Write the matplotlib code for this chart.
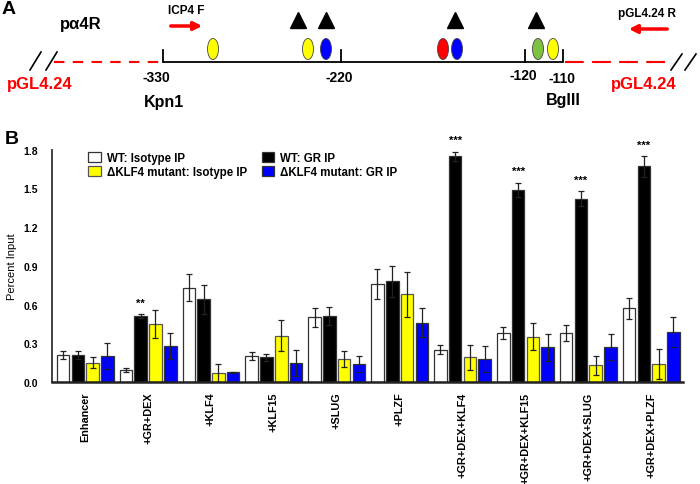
import matplotlib
matplotlib.use("Agg")
import matplotlib.pyplot as plt
from matplotlib.patches import Ellipse
import numpy as np

plt.rcParams['font.family'] = ['Liberation Sans', 'DejaVu Sans']

# ---------------- data (panel B) ----------------
groups = ["Enhancer", "+GR+DEX", "+KLF4", "+KLF15", "+SLUG", "+PLZF",
          "+GR+DEX+KLF4", "+GR+DEX+KLF15", "+GR+DEX+SLUG", "+GR+DEX+PLZF"]
series_names = ["WT: Isotype IP", "WT: GR IP",
                "\u0394KLF4 mutant: Isotype IP", "\u0394KLF4 mutant: GR IP"]
wt_iso = [0.21, 0.09, 0.73, 0.20, 0.50, 0.76, 0.25, 0.38, 0.38, 0.57]
wt_iso_err = [0.03, 0.015, 0.105, 0.03, 0.075, 0.115, 0.035, 0.05, 0.06, 0.08]
wt_gr = [0.21, 0.51, 0.64, 0.19, 0.51, 0.78, 1.75, 1.49, 1.42, 1.67]
wt_gr_err = [0.03, 0.015, 0.11, 0.03, 0.07, 0.12, 0.035, 0.055, 0.06, 0.08]
mut_iso = [0.15, 0.45, 0.07, 0.36, 0.18, 0.68, 0.19, 0.35, 0.13, 0.14]
mut_iso_err = [0.045, 0.11, 0.07, 0.12, 0.06, 0.175, 0.095, 0.105, 0.075, 0.115]
mut_gr = [0.20, 0.28, 0.075, 0.15, 0.14, 0.46, 0.18, 0.27, 0.27, 0.39]
mut_gr_err = [0.10, 0.10, 0.005, 0.10, 0.06, 0.11, 0.10, 0.105, 0.10, 0.115]
stars = ["", "**", "", "", "", "", "***", "***", "***", "***"]
yticks = [0.0, 0.3, 0.6, 0.9, 1.2, 1.5, 1.8]
ytick_labels = ["0.0", "0.3", "0.6", "0.9", "1.2", "1.5", "1.8"]

# ---------------- data (panel A schematic) ----------------
site_x = [213, 308, 326, 443, 457, 538, 553]
site_colors = ["#ffff00", "#ffff00", "#0000ff", "#ff0000", "#0000ff", "#7fc241", "#ffff00"]
triangle_x = [298, 326, 455, 536]
pos_labels = ["-330", "-220", "-120", "-110"]
pos_tick_x = [163, 341, 525, 563]
pos_label_x = [156, 339, 523, 562]
pos_label_y = [78, 78, 76, 79]

fig = plt.figure(figsize=(7.0, 4.85), dpi=100)

# ================= Panel A =================
axA = fig.add_axes([0, 1 - 112 / 485, 1, 112 / 485])
axA.set_xlim(0, 700)
axA.set_ylim(112, 0)
axA.axis('off')

line_y = 63
axA.plot([163, 563], [line_y, line_y], color='black', lw=1.3, solid_capstyle='butt')
for tx in pos_tick_x:
    axA.plot([tx, tx], [line_y, line_y - 12], color='black', lw=1.3)
for lab, lx, ly in zip(pos_labels, pos_label_x, pos_label_y):
    axA.text(lx, ly, lab, ha='center', va='center', fontsize=10, fontweight='bold')

# red dashed vector lines
axA.plot([54, 161], [line_y, line_y], color='red', lw=1.5, ls=(0, (5, 4)))
axA.plot([565, 670], [line_y, line_y], color='red', lw=1.5, ls=(0, (9, 4)))
# break marks
for x0 in (30, 46):
    axA.plot([x0, x0 + 11], [71, 53], color='black', lw=1.2)
for x0 in (671, 685):
    axA.plot([x0, x0 + 11], [71, 55], color='black', lw=1.2)

for sx, sc in zip(site_x, site_colors):
    axA.add_patch(Ellipse((sx, 50), 11, 21, facecolor=sc, edgecolor='#444444', lw=0.6))
axA.plot(triangle_x, [21] * len(triangle_x), marker='^', ls='none', color='black', ms=11)

axA.text(2, 9, "A", fontsize=14, fontweight='bold', ha='left', va='center')
axA.text(81, 25, "p\u03b14R", fontsize=12, fontweight='bold', ha='center', va='center')
axA.text(186, 11, "ICP4 F", fontsize=8.5, fontweight='bold', ha='center', va='center')
axA.text(647, 14, "pGL4.24 R", fontsize=8.5, fontweight='bold', ha='center', va='center')
axA.annotate('', xy=(205, 27), xytext=(168, 27),
             arrowprops=dict(arrowstyle='-|>', color='red', lw=2.5, mutation_scale=12))
axA.annotate('', xy=(626, 30), xytext=(670, 30),
             arrowprops=dict(arrowstyle='-|>', color='red', lw=2.5, mutation_scale=12))
axA.text(40, 85, "pGL4.24", fontsize=12, fontweight='bold', color='red', ha='center', va='center')
axA.text(644, 85, "pGL4.24", fontsize=12, fontweight='bold', color='red', ha='center', va='center')
axA.text(164, 102, "Kpn1", fontsize=11.5, fontweight='bold', ha='center', va='center')
axA.text(563, 101, "BglII", fontsize=11.5, fontweight='bold', ha='center', va='center')

# ================= Panel B =================
left, right = 52 / 700, 683 / 700
bottom, top = 1 - 383 / 485, 1 - 150.7 / 485
ax = fig.add_axes([left, bottom, right - left, top - bottom])

x = np.arange(len(groups))
step, width = 0.235, 0.2
values = [wt_iso, wt_gr, mut_iso, mut_gr]
errors = [wt_iso_err, wt_gr_err, mut_iso_err, mut_gr_err]
colors = ["#ffffff", "#000000", "#ffff00", "#0000ff"]
edges = ["#333333", "#333333", "#555555", "#333333"]
handles = []
for k in range(4):
    pos = x + (k - 1.5) * step
    b = ax.bar(pos, values[k], width=width, color=colors[k], edgecolor=edges[k],
               linewidth=0.9, label=series_names[k], zorder=2)
    ax.errorbar(pos, values[k], yerr=errors[k], fmt='none', ecolor='#222222',
                elinewidth=0.9, capsize=2.5, capthick=0.9, zorder=3)
    handles.append(b)

for i, s in enumerate(stars):
    if s:
        ytop = wt_gr[i] + wt_gr_err[i]
        ax.text(x[i] - 0.5 * step, ytop + 0.05, s, ha='center', va='bottom',
                fontsize=8, fontweight='bold')

ax.set_xlim(-0.528, 9.505)
ax.set_ylim(0, 1.8)
ax.set_yticks(yticks)
ax.set_yticklabels(ytick_labels, fontsize=7.5, fontweight='bold')
ax.set_xticks(x)
ax.set_xticklabels(groups, rotation=90, fontsize=7.8, fontweight='bold')
ax.tick_params(axis='both', length=0)
ax.tick_params(axis='y', pad=10)
ax.tick_params(axis='x', pad=7)
for sp in ('top', 'right'):
    ax.spines[sp].set_visible(False)
ax.spines['left'].set_linewidth(1.3)
ax.spines['left'].set_color('#333333')
ax.spines['bottom'].set_linewidth(1.8)
ax.spines['bottom'].set_color('#222222')
ax.set_ylabel("Percent Input", fontsize=8)
ax.yaxis.set_label_coords(-0.056, 0.5)

leg_order = [handles[0], handles[2], handles[1], handles[3]]
leg_labels = [series_names[0], series_names[2], series_names[1], series_names[3]]
ax.legend(leg_order, leg_labels, ncol=2, frameon=False,
          loc='upper left', bbox_to_anchor=(0.05, 1.01),
          prop={'weight': 'bold', 'size': 8.3}, handlelength=1.1, handleheight=0.9,
          handletextpad=0.5, columnspacing=1.3, labelspacing=0.15, borderaxespad=0)

fig.text(5 / 700, 1 - 139 / 485, "B", fontsize=14, fontweight='bold', ha='left', va='center')

fig.savefig("out.png", dpi=100)
